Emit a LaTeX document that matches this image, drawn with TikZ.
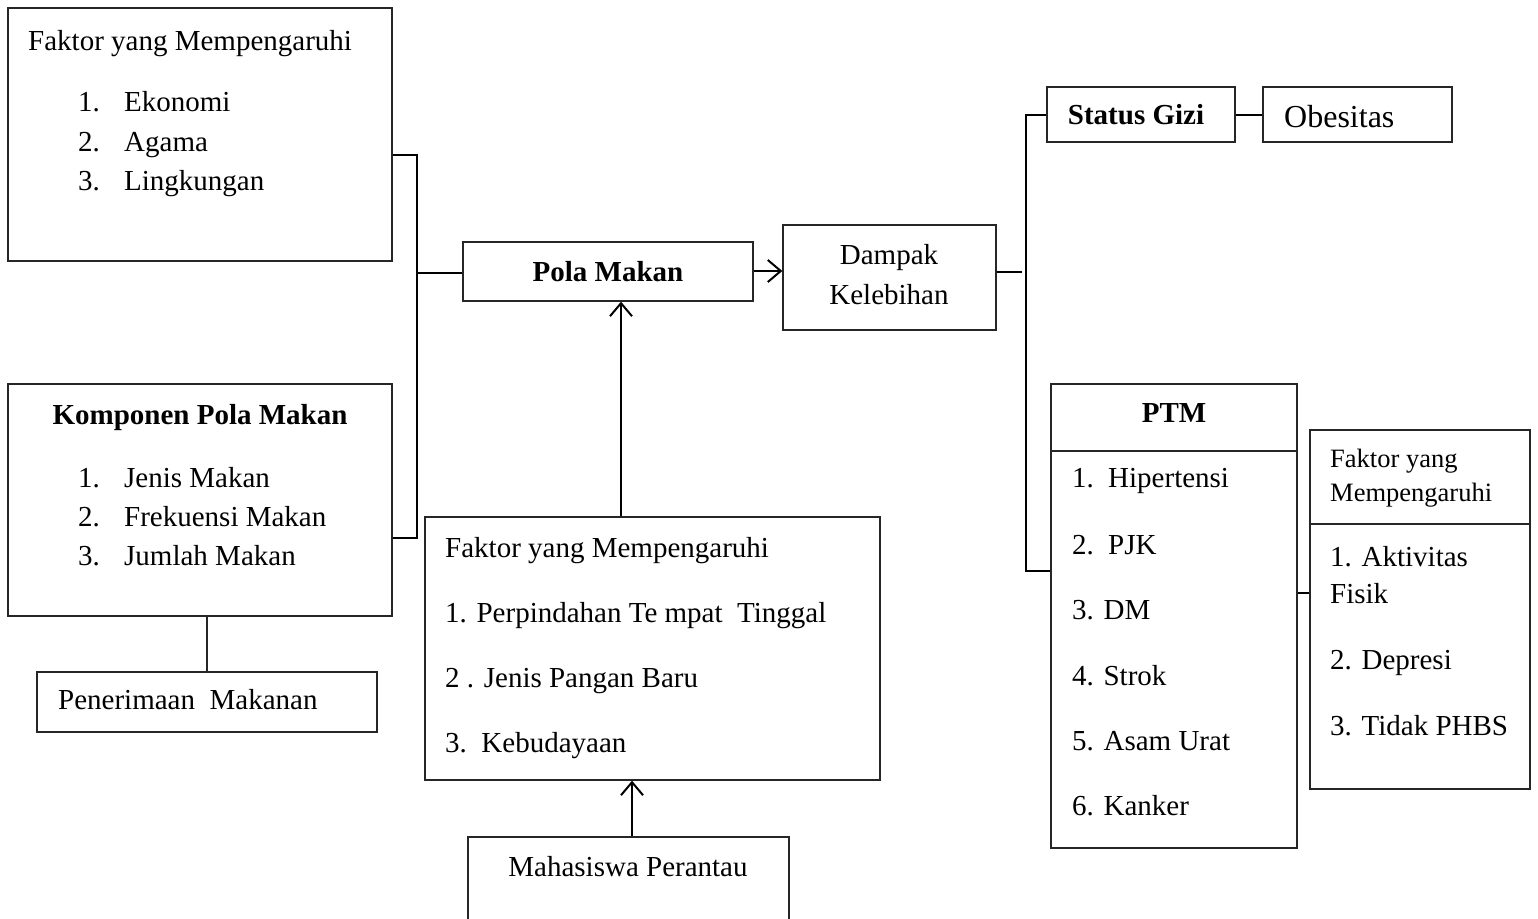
\documentclass[tikz,border=0pt]{standalone}
\usepackage{fontspec}
\setmainfont{Liberation Serif}
\usetikzlibrary{arrows.meta}
\begin{document}
\begin{tikzpicture}[x=1pt,y=-1pt,
  box/.style={draw=black!85,line width=1.3pt,rectangle,inner sep=0pt},
  txt/.style={anchor=base west,inner sep=0pt,font=\fontsize{29}{34}\selectfont},
  ctxt/.style={anchor=base,inner sep=0pt,font=\fontsize{29}{34}\selectfont},
  btxt/.style={anchor=base,inner sep=0pt,font=\fontsize{29}{34}\selectfont\bfseries},
  stxt/.style={anchor=base west,inner sep=0pt,font=\fontsize{26.5}{31}\selectfont},
  ltxt/.style={anchor=base west,inner sep=0pt,font=\fontsize{32}{38}\selectfont},
  link/.style={line width=2pt,black},
  arr/.style={line width=2pt,black,-{Straight Barb[length=13pt,width=22pt,line width=2pt]}}]
\clip (0,0) rectangle (1538,918);
\fill[white] (0,0) rectangle (1538,918);
% boxes
\node[box,minimum width=384,minimum height=253] (b1) at (200,134.5) {};
\node[box,minimum width=384,minimum height=232] (b2) at (200,500) {};
\node[box,minimum width=340,minimum height=60] (pen) at (207,702) {};
\node[box,minimum width=290,minimum height=59] (pola) at (608,271.5) {};
\node[box,minimum width=213,minimum height=105] (dam) at (889.5,277.5) {};
\node[box,minimum width=455,minimum height=263] (f3) at (652.5,648.5) {};
\node[box,minimum width=321,minimum height=93] (mhs) at (628.5,883.5) {};
\node[box,minimum width=188,minimum height=55] (sg) at (1141,114.5) {};
\node[box,minimum width=189,minimum height=55] (ob) at (1357.5,114.5) {};
\node[box,minimum width=246,minimum height=464] (ptm) at (1174,616) {};
\node[box,minimum width=220,minimum height=359] (rf) at (1420,609.5) {};
% dividers
\coordinate (ptmdiv) at (1051,451);
\draw[box] (ptmdiv) -- (ptmdiv -| ptm.east);
\coordinate (rfdiv) at (1310,524);
\draw[box] (rfdiv) -- (rfdiv -| rf.east);
% texts box1
\node[txt] (t1) at (28,50) {Faktor yang Mempengaruhi};
\node[txt] (t1n1) at (78,111) {1.};
\node[txt] (t1a) at (124,111) {Ekonomi};
\node[txt] (t1n2) at (78,151) {2.};
\node[txt] (t1b) at (124,151) {Agama};
\node[txt] (t1n3) at (78,190) {3.};
\node[txt] (t1c) at (124,190) {Lingkungan};
% box2
\node[btxt] (t2) at (200,424) {Komponen Pola Makan};
\node[txt] (t2n1) at (78,487) {1.};
\node[txt] (t2a) at (124,487) {Jenis Makan};
\node[txt] (t2n2) at (78,526) {2.};
\node[txt] (t2b) at (124,526) {Frekuensi Makan};
\node[txt] (t2n3) at (78,565) {3.};
\node[txt] (t2c) at (124,565) {Jumlah Makan};
% penerimaan
\node[txt] (tpen) at (58,709) {Penerimaan\ \ Makanan};
% pola
\node[btxt] (tpola) at (608,281) {Pola Makan};
% dampak
\node[ctxt] (td1) at (889,264) {Dampak};
\node[ctxt] (td2) at (889,304) {Kelebihan};
% faktor 3
\node[txt] (tf0) at (445,557) {Faktor yang Mempengaruhi};
\node[txt] (tf1) at (445,622) {1. Perpindahan Te mpat\ \ Tinggal};
\node[txt] (tf2) at (445,687) {2 . Jenis Pangan Baru};
\node[txt] (tf3) at (445,752) {3.\ \ Kebudayaan};
% mahasiswa
\node[ctxt] (tm) at (628,876) {Mahasiswa Perantau};
% status / obesitas
\node[btxt] (tsg) at (1136,124) {Status Gizi};
\node[ltxt] (tob) at (1284,127) {Obesitas};
% PTM
\node[btxt] (tptm) at (1174,422) {PTM};
\node[txt] (p1n) at (1072,487) {1.};
\node[txt] (p1) at (1108,487) {Hipertensi};
\node[txt] (p2n) at (1072,554) {2.};
\node[txt] (p2) at (1108,554) {PJK};
\node[txt] (p3) at (1072,619) {3. DM};
\node[txt] (p4) at (1072,685) {4. Strok};
\node[txt] (p5) at (1072,750) {5. Asam Urat};
\node[txt] (p6) at (1072,815) {6. Kanker};
% right factor
\node[stxt] (r0a) at (1330,467) {Faktor yang};
\node[stxt] (r0b) at (1330,501) {Mempengaruhi};
\node[txt] (r1a) at (1330,566) {1. Aktivitas};
\node[txt] (r1b) at (1330,603) {Fisik};
\node[txt] (r2) at (1330,669) {2. Depresi};
\node[txt] (r3) at (1330,735) {3. Tidak PHBS};
% left bracket
\coordinate (lbt) at (417,155);
\coordinate (lbb) at (417,538);
\coordinate (lbm) at (417,273);
\draw[link] (lbt -| b1.east) -- (lbt) -- (lbb) -- (lbb -| b2.east);
\draw[link] (lbm) -- (lbm -| pola.west);
% box2 to penerimaan
\draw[box] (b2.south -| pen.north) -- (pen.north);
% pola -> dampak
\draw[arr] (pola.east |- 0,271) -- (dam.west |- 0,271);
% f3 -> pola
\draw[arr] (f3.north -| 621,0) -- (pola.south -| 621,0);
% mhs -> f3
\draw[arr] (mhs.north -| 632,0) -- (f3.south -| 632,0);
% right bracket
\coordinate (rbt) at (1026,114.5);
\coordinate (rbb) at (1026,571);
\coordinate (rbm) at (1022,272);
\draw[link] (sg.west) -- (rbt) -- (rbb) -- (rbb -| ptm.west);
\draw[link] (dam.east |- rbm) -- (rbm);
\draw[link] (sg.east) -- (ob.west);
\draw[link] (ptm.east |- 0,593) -- (rf.west |- 0,593);
\end{tikzpicture}
\end{document}
